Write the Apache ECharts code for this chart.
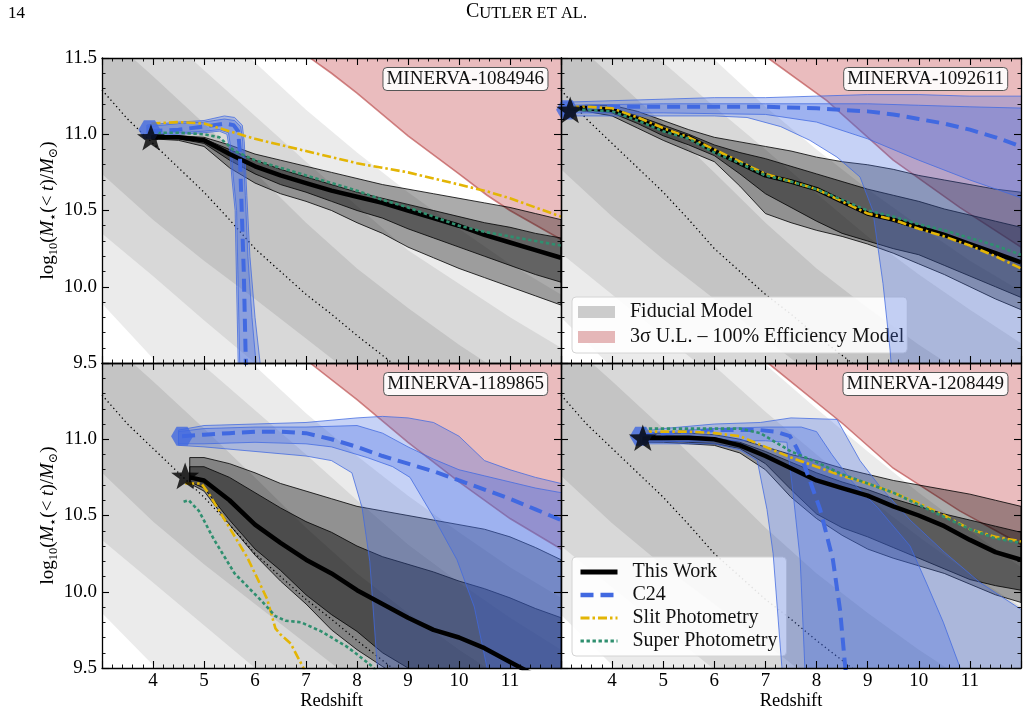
<!DOCTYPE html>
<html>
<head>
<meta charset="utf-8">
<title>Cutler et al. - mass assembly</title>
<script src="https://cdn.jsdelivr.net/npm/echarts@6/dist/echarts.min.js"></script>
<style>
html, body { margin: 0; padding: 0; background: #fff; }
#chart { width: 1029px; height: 712px; }
</style>
</head>
<body>
<div id="chart"></div>
<script>
const F = "'Liberation Serif','DejaVu Serif',serif";

// ---- data (redshift, log10 M) ----
const panelNames = ['MINERVA-1084946', 'MINERVA-1092611', 'MINERVA-1189865', 'MINERVA-1208449'];

// fiducial model contours, on a common redshift grid
const fidZ = [3, 4, 5, 6, 7, 8, 9, 10, 11, 12];
const p1FidU3 = [12.4, 12.1, 11.78, 11.47, 11.16, 10.88, 10.62, 10.38, 10.15, 9.95];
const p1FidU2 = [12.0, 11.72, 11.42, 11.12, 10.82, 10.53, 10.24, 10.02, 9.8, 9.6];
const p1FidU1 = [11.68, 11.38, 11.07, 10.75, 10.42, 10.12, 9.86, 9.62, 9.4, 9.2];
const p1FidD1 = [10.74, 10.44, 10.17, 9.92, 9.66, 9.40, 9.15, 8.9, 8.65, 8.4];
const p1FidD2 = [10.35, 10.07, 9.78, 9.50, 9.22, 8.95, 8.7, 8.45, 8.2, 7.95];
const p1FidD3 = [9.89, 9.53, 9.2, 8.9, 8.6, 8.3, 8.0, 7.7, 7.4, 7.1];
const p2FidU3 = [12.42, 12.12, 11.8, 11.49, 11.18, 10.9, 10.64, 10.4, 10.17, 9.97];
const p2FidU2 = [12.0, 11.73, 11.47, 11.18, 10.9, 10.61, 10.33, 10.08, 9.85, 9.63];
const p2FidU1 = [11.68, 11.38, 11.07, 10.75, 10.42, 10.12, 9.86, 9.62, 9.4, 9.2];
const p2FidD1 = [10.77, 10.46, 10.18, 9.92, 9.66, 9.40, 9.15, 8.9, 8.65, 8.4];
const p2FidD2 = [10.22, 9.95, 9.68, 9.41, 9.15, 8.9, 8.65, 8.4, 8.15, 7.9];
const p2FidD3 = [9.8, 9.47, 9.15, 8.85, 8.55, 8.25, 7.95, 7.65, 7.35, 7.05];
const p3FidU3 = [12.4, 12.1, 11.79, 11.48, 11.17, 10.89, 10.63, 10.39, 10.16, 9.96];
const p3FidU2 = [12.02, 11.75, 11.48, 11.19, 10.9, 10.6, 10.31, 10.06, 9.83, 9.62];
const p3FidU1 = [11.68, 11.38, 11.07, 10.75, 10.42, 10.12, 9.86, 9.62, 9.4, 9.2];
const p3FidD1 = [10.78, 10.46, 10.18, 9.92, 9.66, 9.40, 9.15, 8.9, 8.65, 8.4];
const p3FidD2 = [10.34, 10.06, 9.78, 9.50, 9.22, 8.95, 8.7, 8.45, 8.2, 7.95];
const p3FidD3 = [9.86, 9.52, 9.2, 8.9, 8.6, 8.3, 8.0, 7.7, 7.4, 7.1];
const p4FidU3 = [12.55, 12.3, 12.05, 11.78, 11.49, 11.2, 10.92, 10.65, 10.4, 10.16];
const p4FidU2 = [12.3, 12.05, 11.77, 11.48, 11.18, 10.9, 10.62, 10.36, 10.12, 9.9];
const p4FidU1 = [11.68, 11.38, 11.07, 10.75, 10.42, 10.12, 9.86, 9.62, 9.4, 9.2];
const p4FidD1 = [10.76, 10.45, 10.17, 9.92, 9.66, 9.40, 9.15, 8.9, 8.65, 8.4];
const p4FidD2 = [10.3, 10.03, 9.76, 9.49, 9.22, 8.95, 8.7, 8.45, 8.2, 7.95];
const p4FidD3 = [9.85, 9.52, 9.2, 8.9, 8.6, 8.3, 8.0, 7.7, 7.4, 7.1];

// dotted reference track (same in every panel)
const dottedTrack = [[3, 11.29], [3.5, 11.1], [4, 10.94], [4.5, 10.78], [5, 10.62], [5.5, 10.44], [6, 10.25],
  [6.5, 10.1], [7, 9.95], [7.5, 9.82], [8, 9.68], [8.5, 9.55], [9, 9.42], [9.5, 9.3]];

// 3 sigma upper limit, 100% efficiency
const p1Red = [[6.9, 11.56], [7.08, 11.5], [7.5, 11.4], [8, 11.27], [9, 10.99], [10, 10.74], [10.55, 10.6], [11, 10.5], [12, 10.31], [12.2, 10.28]];
const p2Red = [[6.9, 11.54], [7.05, 11.5], [8.2, 11.22], [9.5, 10.83], [10.8, 10.52], [12, 10.26], [12.2, 10.22]];
const p3Red = [[6.9, 11.55], [7.08, 11.5], [8, 11.26], [9, 10.98], [10, 10.72], [11, 10.48], [12, 10.28], [12.2, 10.25]];
const p4Red = [[6.9, 11.54], [7.05, 11.5], [8.52, 11.1], [9.5, 10.81], [10.8, 10.53], [12, 10.31], [12.2, 10.28]];

// This Work: median and 68/95 percent bands
const p1TwZ = [3.97, 4.5, 5, 5.5, 6, 6.5, 7, 7.5, 8, 8.5, 9, 9.5, 10, 10.5, 11, 11.5, 12];
const p1TwMed = [10.98, 10.98, 10.96, 10.87, 10.79, 10.73, 10.68, 10.63, 10.59, 10.55, 10.50, 10.45, 10.40, 10.34, 10.29, 10.24, 10.19];
const p1TwOutHi = [10.99, 10.99, 10.98, 10.93, 10.87, 10.83, 10.79, 10.75, 10.71, 10.67, 10.64, 10.61, 10.58, 10.55, 10.52, 10.48, 10.44];
const p1TwInHi = [10.985, 10.985, 10.97, 10.90, 10.83, 10.77, 10.72, 10.67, 10.62, 10.58, 10.54, 10.50, 10.46, 10.42, 10.39, 10.35, 10.32];
const p1TwInLo = [10.975, 10.97, 10.94, 10.83, 10.74, 10.67, 10.62, 10.56, 10.50, 10.45, 10.38, 10.32, 10.26, 10.20, 10.14, 10.08, 10.03];
const p1TwOutLo = [10.97, 10.96, 10.92, 10.78, 10.68, 10.61, 10.56, 10.50, 10.42, 10.35, 10.26, 10.19, 10.12, 10.06, 10.00, 9.94, 9.88];

const p2TwZ = [3.18, 3.5, 4, 4.5, 5, 5.5, 6, 6.5, 7, 7.5, 8, 8.5, 9, 9.5, 10, 10.5, 11, 11.5, 12];
const p2TwMed = [11.17, 11.17, 11.16, 11.10, 11.03, 10.98, 10.89, 10.81, 10.73, 10.69, 10.64, 10.56, 10.48, 10.44, 10.39, 10.34, 10.28, 10.22, 10.16];
const p2TwOutHi = [11.18, 11.19, 11.19, 11.15, 11.09, 11.03, 10.98, 10.95, 10.92, 10.89, 10.85, 10.82, 10.80, 10.77, 10.73, 10.70, 10.67, 10.64, 10.62];
const p2TwInHi = [11.175, 11.18, 11.17, 11.12, 11.06, 11.0, 10.93, 10.88, 10.84, 10.79, 10.74, 10.69, 10.64, 10.60, 10.56, 10.51, 10.47, 10.43, 10.39];
const p2TwInLo = [11.165, 11.16, 11.14, 11.07, 10.99, 10.93, 10.86, 10.74, 10.61, 10.52, 10.43, 10.35, 10.30, 10.25, 10.21, 10.14, 10.07, 10.0, 9.93];
const p2TwOutLo = [11.16, 11.15, 11.12, 11.04, 10.96, 10.89, 10.82, 10.66, 10.48, 10.42, 10.37, 10.33, 10.28, 10.22, 10.15, 10.08, 10.0, 9.92, 9.85];

const p3TwZ = [4.72, 5, 5.5, 6, 6.5, 7, 7.5, 8, 8.5, 9, 9.5, 10, 10.5, 11, 11.5, 12];
const p3TwMed = [10.75, 10.73, 10.60, 10.44, 10.32, 10.21, 10.12, 10.01, 9.92, 9.83, 9.75, 9.70, 9.63, 9.54, 9.45, 9.35];
const p3TwOutHi = [10.88, 10.88, 10.84, 10.78, 10.71, 10.66, 10.61, 10.56, 10.53, 10.50, 10.47, 10.44, 10.41, 10.36, 10.29, 10.21];
const p3TwInHi = [10.82, 10.82, 10.75, 10.65, 10.55, 10.46, 10.39, 10.30, 10.23, 10.18, 10.13, 10.07, 10.02, 9.96, 9.89, 9.83];
const p3TwInLo = [10.72, 10.68, 10.47, 10.28, 10.14, 9.98, 9.85, 9.74, 9.60, 9.50, 9.40, 9.30, 9.2, 9.1, 9.0, 8.9];
const p3TwOutLo = [10.71, 10.66, 10.44, 10.24, 10.07, 9.92, 9.75, 9.62, 9.51, 9.40, 9.3, 9.2, 9.1, 9.0, 8.9, 8.8];

const p4TwZ = [4.6, 5, 5.5, 6, 6.5, 7, 7.5, 8, 8.5, 9, 9.5, 10, 10.5, 11, 11.5, 12];
const p4TwMed = [11.01, 11.01, 11.01, 11.0, 10.96, 10.89, 10.81, 10.73, 10.68, 10.63, 10.56, 10.50, 10.43, 10.34, 10.26, 10.21];
const p4TwOutHi = [11.04, 11.04, 11.04, 11.03, 11.0, 10.95, 10.9, 10.86, 10.81, 10.77, 10.73, 10.70, 10.67, 10.64, 10.60, 10.56];
const p4TwInHi = [11.02, 11.02, 11.02, 11.01, 10.98, 10.92, 10.85, 10.78, 10.72, 10.67, 10.61, 10.56, 10.51, 10.47, 10.43, 10.39];
const p4TwInLo = [10.99, 10.99, 10.98, 10.97, 10.94, 10.84, 10.67, 10.51, 10.42, 10.36, 10.29, 10.22, 10.15, 10.08, 10.04, 10.01];
const p4TwOutLo = [10.98, 10.98, 10.97, 10.96, 10.91, 10.80, 10.62, 10.48, 10.37, 10.28, 10.22, 10.17, 10.12, 10.05, 9.98, 9.93];

// C24 median tracks
const p1C24 = [[3.93, 11.02], [4.5, 11.03], [5.0, 11.05], [5.4, 11.07], [5.58, 11.06], [5.67, 11.02], [5.70, 10.9], [5.74, 10.5], [5.78, 10.1], [5.82, 9.5], [5.84, 9.3]];
const p2C24 = [[3.12, 11.17], [4, 11.18], [5, 11.18], [6, 11.18], [7, 11.18], [8, 11.17], [8.5, 11.16], [9, 11.15], [9.5, 11.13], [10, 11.1], [10.5, 11.07], [11, 11.03], [11.5, 10.98], [12, 10.92]];
const p3C24 = [[4.57, 11.02], [5, 11.03], [5.5, 11.04], [6, 11.05], [6.5, 11.05], [7, 11.04], [7.5, 11.0], [8, 10.95], [8.5, 10.89], [9, 10.84], [9.5, 10.79], [10, 10.73], [10.5, 10.67], [11, 10.61], [11.5, 10.54], [12, 10.47]];
const p4C24 = [[4.56, 11.03], [5, 11.04], [5.5, 11.05], [6, 11.06], [6.5, 11.06], [6.9, 11.06], [7.2, 11.05], [7.48, 11.02], [7.6, 10.95], [7.73, 10.86], [7.9, 10.70], [8.07, 10.54], [8.2, 10.37], [8.32, 10.21], [8.46, 9.88], [8.56, 9.51], [8.6, 9.4]];

// C24 band edges (edge A runs along the top / right, edge B along the bottom / left)
const p1C24OutA = [[3.88, 11.06], [4.5, 11.08], [5.0, 11.09], [5.4, 11.12], [5.6, 11.11], [5.75, 11.06], [5.79, 10.95], [5.84, 10.6], [5.9, 10.2], [6.0, 9.8], [6.1, 9.5], [6.12, 9.4]];
const p1C24OutB = [[3.88, 10.99], [4.5, 11.0], [5.0, 11.01], [5.3, 11.02], [5.45, 11.0], [5.5, 10.9], [5.55, 10.7], [5.61, 10.5], [5.64, 10.0], [5.67, 9.5], [5.68, 9.4]];
const p1C24InA = [[3.9, 11.05], [4.5, 11.07], [5.0, 11.08], [5.4, 11.1], [5.6, 11.09], [5.72, 11.05], [5.76, 10.95], [5.81, 10.6], [5.86, 10.2], [5.94, 9.8], [6.02, 9.5], [6.04, 9.4]];
const p1C24InB = [[3.9, 11.0], [4.5, 11.01], [5.0, 11.02], [5.3, 11.03], [5.48, 11.01], [5.53, 10.9], [5.58, 10.7], [5.64, 10.5], [5.67, 10.0], [5.7, 9.5], [5.71, 9.4]];

const p2C24OutA = [[3.05, 11.21], [4, 11.22], [5, 11.23], [6, 11.24], [7, 11.24], [8, 11.25], [9, 11.26], [10, 11.26], [11, 11.25], [12.2, 11.25], [12.2, 9.3]];
const p2C24OutB = [[3.05, 11.12], [4, 11.12], [5, 11.12], [6, 11.12], [6.64, 11.11], [7.3, 11.05], [7.87, 10.96], [8.4, 10.85], [8.85, 10.72], [9.1, 10.5], [9.3, 10.02], [9.44, 9.58], [9.5, 9.3]];
const p2C24InA = [[3.05, 11.19], [5, 11.2], [7, 11.2], [9, 11.2], [10, 11.19], [11, 11.18], [12.2, 11.17]];
const p2C24InB = [[3.05, 11.14], [5, 11.14], [7, 11.13], [8, 11.08], [9, 10.97], [10, 10.83], [11, 10.7], [12.2, 10.56]];

const p3C24OutA = [[4.5, 11.06], [5, 11.09], [6, 11.10], [7, 11.11], [8, 11.14], [8.5, 11.15], [9, 11.14], [9.5, 11.11], [10, 11.02], [10.5, 10.86], [11, 10.8], [11.5, 10.75], [12, 10.71], [12.2, 10.7], [12.2, 9.3]];
const p3C24OutB = [[4.5, 10.96], [5, 10.95], [6, 10.92], [7, 10.89], [7.5, 10.86], [7.9, 10.78], [8.1, 10.55], [8.25, 10.2], [8.4, 9.5], [8.42, 9.3]];
const p3C24InA = [[4.5, 11.05], [5, 11.07], [6, 11.08], [7, 11.08], [8, 11.09], [8.5, 11.04], [9, 10.95], [9.5, 10.87], [10, 10.80], [10.5, 10.76], [11, 10.72], [11.5, 10.68], [12, 10.65], [12.2, 10.64], [12.2, 9.3]];
const p3C24InB = [[4.5, 10.97], [5, 10.97], [6, 10.98], [7, 10.97], [7.5, 10.95], [8.2, 10.88], [8.7, 10.82], [9.04, 10.75], [9.5, 10.49], [9.96, 10.21], [10.3, 9.9], [10.55, 9.5], [10.6, 9.3]];

const p4C24OutA = [[4.55, 11.05], [5, 11.07], [6, 11.1], [6.9, 11.11], [7.5, 11.14], [8.4, 11.13], [8.6, 11.01], [8.85, 10.86], [9.24, 10.69], [9.83, 10.47], [10.5, 10.26], [11.2, 10.06], [12.2, 9.84], [12.2, 9.3]];
const p4C24OutB = [[4.55, 10.97], [6.0, 10.97], [6.5, 10.93], [6.84, 10.86], [7.03, 10.54], [7.15, 10.25], [7.32, 9.51], [7.35, 9.3]];
const p4C24InA = [[4.55, 11.04], [6, 11.07], [7, 11.08], [7.7, 11.08], [8.0, 11.05], [8.3, 10.9], [8.7, 10.72], [9.2, 10.55], [9.83, 10.3], [10.16, 10.05], [10.48, 9.8], [10.8, 9.51], [10.9, 9.3]];
const p4C24InB = [[4.55, 10.98], [6, 10.99], [7, 10.99], [7.42, 10.98], [7.54, 10.65], [7.68, 10.21], [7.77, 9.51], [7.8, 9.3]];

// slit and super photometry tracks
const p1Slit = [[3.97, 11.07], [4.5, 11.08], [5.0, 11.07], [5.5, 11.02], [6.0, 10.97], [6.5, 10.93], [7.0, 10.89], [7.5, 10.85], [8, 10.81], [8.5, 10.78], [9, 10.75], [9.5, 10.71], [10, 10.67], [10.5, 10.63], [11, 10.58], [11.5, 10.52], [12, 10.46]];
const p1Super = [[3.97, 11.01], [4.5, 11.01], [5.0, 11.0], [5.3, 10.98], [5.6, 10.89], [6, 10.83], [6.5, 10.78], [7, 10.73], [7.5, 10.68], [8, 10.63], [8.5, 10.57], [9, 10.52], [9.5, 10.46], [10, 10.40], [10.5, 10.36], [11, 10.33], [11.5, 10.30], [12, 10.27]];
const p2Slit = [[3.18, 11.18], [3.5, 11.18], [4, 11.17], [4.5, 11.11], [5, 11.04], [5.5, 10.98], [6, 10.9], [6.5, 10.82], [7, 10.74], [7.5, 10.69], [8, 10.64], [8.5, 10.56], [9, 10.48], [9.5, 10.44], [10, 10.38], [10.5, 10.33], [11, 10.27], [11.5, 10.2], [12, 10.12]];
const p2Super = [[3.18, 11.16], [3.5, 11.16], [4, 11.15], [4.5, 11.09], [5, 11.02], [5.5, 10.97], [6, 10.88], [6.5, 10.81], [7, 10.73], [7.5, 10.69], [8, 10.64], [8.5, 10.57], [9, 10.5], [9.5, 10.46], [10, 10.41], [10.5, 10.37], [11, 10.32], [11.5, 10.27], [12, 10.21]];
const p3Slit = [[4.63, 10.71], [4.95, 10.71], [5.1, 10.64], [5.5, 10.42], [5.84, 10.23], [6.0, 10.12], [6.24, 9.95], [6.4, 9.76], [6.5, 9.72], [6.7, 9.66], [6.95, 9.5], [7.0, 9.45]];
const p3Super = [[4.6, 10.59], [4.7, 10.6], [4.9, 10.53], [5.2, 10.34], [5.6, 10.12], [6.1, 9.95], [6.4, 9.84], [6.6, 9.81], [6.9, 9.80], [7.3, 9.74], [7.8, 9.64], [8.0, 9.59], [8.3, 9.51], [8.4, 9.47]];
const p4Slit = [[4.6, 11.05], [5, 11.05], [5.5, 11.05], [6, 11.04], [6.5, 11.02], [7, 10.95], [7.5, 10.88], [8, 10.82], [8.5, 10.76], [9, 10.71], [9.5, 10.65], [10, 10.58], [10.5, 10.5], [11, 10.41], [11.5, 10.36], [12, 10.33]];
const p4Super = [[4.6, 11.07], [5, 11.07], [5.5, 11.07], [6, 11.07], [6.5, 11.07], [6.9, 11.04], [7.5, 10.92], [8, 10.85], [8.5, 10.77], [9, 10.71], [9.5, 10.65], [10, 10.57], [10.5, 10.49], [11, 10.41], [11.5, 10.35], [12, 10.32]];

// observed points
const starPts = [[3.96, 10.98], [3.18, 11.16], [4.63, 10.76], [4.6, 11.01]];
const hexPts = [[3.93, 11.03], [3.12, 11.16], [4.57, 11.02], [4.56, 11.02]];

// ---- helpers ----
const zip = (zs, vs) => zs.map((z, i) => [z, vs[i]]);
const STAR = 'path://M0,-10L2.35,-3.24L9.51,-3.09L3.8,1.24L5.88,8.09L0,4L-5.88,8.09L-3.8,1.24L-9.51,-3.09L-2.35,-3.24Z';
const HEX = 'path://M-10,0L-5,-8.66L5,-8.66L10,0L5,8.66L-5,8.66Z';

function poly(gi, name, a, b, style, z) {
  const pts = a.concat(b.slice().reverse());
  return {
    type: 'custom', name: name, xAxisIndex: gi * 2, yAxisIndex: gi * 2, z: z, silent: true,
    data: [[7, 10.5]],
    renderItem: function (params, api) {
      const cs = params.coordSys;
      return {
        type: 'polygon',
        shape: { points: pts.map(p => api.coord(p)) },
        style: style,
        clipPath: { type: 'rect', shape: { x: cs.x, y: cs.y, width: cs.width, height: cs.height } }
      };
    }
  };
}

function line(gi, name, data, color, width, type, z) {
  return {
    type: 'line', name: name, xAxisIndex: gi * 2, yAxisIndex: gi * 2, z: z, silent: true,
    data: data, symbol: 'none', showSymbol: false,
    lineStyle: { color: color, width: width, type: type, cap: 'butt', join: 'round' },
    itemStyle: { color: color }
  };
}

const panels = [
  { fid: [p1FidU3, p1FidU2, p1FidU1, p1FidD1, p1FidD2, p1FidD3], red: p1Red,
    tw: [p1TwZ, p1TwMed, p1TwOutHi, p1TwInHi, p1TwInLo, p1TwOutLo],
    c24: p1C24, c24Bands: [[p1C24OutA, p1C24OutB], [p1C24InA, p1C24InB]], slit: p1Slit, sup: p1Super },
  { fid: [p2FidU3, p2FidU2, p2FidU1, p2FidD1, p2FidD2, p2FidD3], red: p2Red,
    tw: [p2TwZ, p2TwMed, p2TwOutHi, p2TwInHi, p2TwInLo, p2TwOutLo],
    c24: p2C24, c24Bands: [[p2C24OutA, p2C24OutB], [p2C24InA, p2C24InB]], slit: p2Slit, sup: p2Super },
  { fid: [p3FidU3, p3FidU2, p3FidU1, p3FidD1, p3FidD2, p3FidD3], red: p3Red,
    tw: [p3TwZ, p3TwMed, p3TwOutHi, p3TwInHi, p3TwInLo, p3TwOutLo],
    c24: p3C24, c24Bands: [[p3C24OutA, p3C24OutB], [p3C24InA, p3C24InB]], slit: p3Slit, sup: p3Super },
  { fid: [p4FidU3, p4FidU2, p4FidU1, p4FidD1, p4FidD2, p4FidD3], red: p4Red,
    tw: [p4TwZ, p4TwMed, p4TwOutHi, p4TwInHi, p4TwInLo, p4TwOutLo],
    c24: p4C24, c24Bands: [[p4C24OutA, p4C24OutB], [p4C24InA, p4C24InB]], slit: p4Slit, sup: p4Super }
];

const FID_NAME = 'Fiducial Model';
const RED_NAME = '3σ U.L. – 100% Efficiency Model';
const fidColors = ['#ebebeb', '#d8d8d8', '#c4c4c4'];
const C24_DASH = [13, 7];
const SLIT_DASH = [9, 3, 2.5, 3];
const SUPER_DASH = [3.4, 2.6];

const series = [];
panels.forEach((p, gi) => {
  const f = p.fid;
  series.push(poly(gi, FID_NAME, zip(fidZ, f[0]), zip(fidZ, f[5]), { fill: fidColors[0] }, 1));
  series.push(poly(gi, FID_NAME, zip(fidZ, f[1]), zip(fidZ, f[4]), { fill: fidColors[1] }, 1));
  series.push(poly(gi, FID_NAME, zip(fidZ, f[2]), zip(fidZ, f[3]), { fill: fidColors[2] }, 1));
  series.push(line(gi, 'dotted', dottedTrack, '#000', 1.3, [1.3, 3], 2));
  series.push(poly(gi, RED_NAME, p.red, [[6.5, 11.8], [12.3, 11.8]],
    { fill: 'rgba(200,80,85,0.38)', stroke: 'rgba(185,70,70,0.65)', lineWidth: 1.6 }, 3));
  const t = p.tw;
  series.push(poly(gi, 'tw95', zip(t[0], t[2]), zip(t[0], t[5]),
    { fill: 'rgba(0,0,0,0.33)', stroke: '#000', lineWidth: 0.8 }, 4));
  series.push(poly(gi, 'tw68', zip(t[0], t[3]), zip(t[0], t[4]),
    { fill: 'rgba(0,0,0,0.42)', stroke: '#000', lineWidth: 0.8 }, 4));
  p.c24Bands.forEach(b => {
    series.push(poly(gi, 'c24band', b[0], b[1],
      { fill: 'rgba(65,105,225,0.3)', stroke: 'rgba(65,105,225,0.85)', lineWidth: 0.9 }, 5));
  });
  series.push(line(gi, 'This Work', zip(t[0], t[1]), '#000', 4.5, 'solid', 6));
  series.push(line(gi, 'C24', p.c24, '#4169e1', 4, C24_DASH, 6));
  series.push(line(gi, 'Slit Photometry', p.slit, '#e3b505', 2.6, SLIT_DASH, 6));
  series.push(line(gi, 'Super Photometry', p.sup, '#2f8f6f', 2.6, SUPER_DASH, 6));
  series.push({ type: 'scatter', xAxisIndex: gi * 2, yAxisIndex: gi * 2, z: 7, silent: true,
    data: [hexPts[gi]], symbol: HEX, symbolSize: 22, symbolKeepAspect: true, itemStyle: { color: '#4169e1' } });
  series.push({ type: 'scatter', xAxisIndex: gi * 2, yAxisIndex: gi * 2, z: 8, silent: true,
    data: [starPts[gi]], symbol: STAR, symbolSize: 28, symbolKeepAspect: true, itemStyle: { color: '#000' } });
});

// ---- axes ----
const grids = [
  { left: 102, top: 58, width: 459, height: 305 },
  { left: 561, top: 58, width: 460, height: 305 },
  { left: 102, top: 363, width: 459, height: 305 },
  { left: 561, top: 363, width: 460, height: 305 }
];
const axisLine = { show: true, onZero: false, lineStyle: { color: '#000', width: 1.3 } };
const tick = { show: true, inside: true, length: 7, lineStyle: { color: '#000', width: 1.1 } };
const minor = { show: true, splitNumber: 5, length: 3.5, lineStyle: { color: '#000', width: 0.9 } };
const labelFont = { fontFamily: F, fontSize: 19, color: '#000' };

const xAxis = [];
const yAxis = [];
grids.forEach((g, gi) => {
  const bottomRow = gi >= 2;
  xAxis.push({
    type: 'value', gridIndex: gi, min: 3, max: 12, interval: 1, position: 'bottom', z: 10,
    axisLine: axisLine, axisTick: tick, minorTick: minor, splitLine: { show: false },
    axisLabel: { show: bottomRow, margin: 4, ...labelFont, formatter: v => (v <= 3 || v >= 12) ? '' : String(v) },
    name: bottomRow ? 'Redshift' : '', nameLocation: 'middle', nameGap: 22,
    nameTextStyle: { fontFamily: F, fontSize: 18.5, color: '#000' }
  });
  xAxis.push({
    type: 'value', gridIndex: gi, min: 3, max: 12, interval: 1, position: 'top', z: 10,
    axisLine: axisLine, axisTick: tick, minorTick: minor, splitLine: { show: false }, axisLabel: { show: false }
  });
  const leftCol = gi % 2 === 0;
  yAxis.push({
    type: 'value', gridIndex: gi, min: 9.5, max: 11.5, interval: 0.5, position: 'left', z: 10,
    axisLine: axisLine, axisTick: tick, minorTick: minor, splitLine: { show: false },
    axisLabel: { show: leftCol, margin: 5, ...labelFont,
      formatter: v => (bottomRow && v >= 11.5) ? '' : v.toFixed(1) },
    name: leftCol ? '{n|log}{s|10}{n|(}{i|M}{s|⋆}{n|(< }{i|t}{n|)/}{i|M}{s|⊙}{n|)}' : '',
    nameLocation: 'middle', nameGap: 39, nameRotate: 90,
    nameTextStyle: {
      rich: {
        n: { fontFamily: F, fontSize: 19, color: '#000', lineHeight: 24, verticalAlign: 'middle' },
        i: { fontFamily: F, fontSize: 19, color: '#000', fontStyle: 'italic', lineHeight: 24, verticalAlign: 'middle' },
        s: { fontFamily: F, fontSize: 12.5, color: '#000', lineHeight: 24, verticalAlign: 'bottom' }
      }
    }
  });
  yAxis.push({
    type: 'value', gridIndex: gi, min: 9.5, max: 11.5, interval: 0.5, position: 'right', z: 10,
    axisLine: axisLine, axisTick: tick, minorTick: minor, splitLine: { show: false }, axisLabel: { show: false }
  });
});

const boxRight = [481, 21, 481, 21];
const boxTop = [67, 67, 372, 372];
const titles = panelNames.map((t, i) => ({
  text: t, right: boxRight[i], top: boxTop[i],
  textStyle: { fontFamily: F, fontSize: 19, fontWeight: 'normal', color: '#111', lineHeight: 21 },
  backgroundColor: 'rgba(255,255,255,0.9)', borderColor: '#555', borderWidth: 1, borderRadius: 4,
  padding: [2, 4, 1, 4]
}));

const hidden = { color: 'rgba(0,0,0,0)', borderWidth: 0 };
const legendBase = {
  orient: 'vertical', selectedMode: false, itemWidth: 37, itemHeight: 12,
  textStyle: { fontFamily: F, fontSize: 20, color: '#111', lineHeight: 20, padding: [0, 0, 0, 10] },
  backgroundColor: 'rgba(255,255,255,0.88)', borderColor: '#d4d4d4', borderWidth: 1, borderRadius: 4
};

const chart = echarts.init(document.getElementById('chart'), null, { renderer: 'canvas' });
chart.setOption({
  animation: false,
  backgroundColor: '#fff',
  grid: grids,
  xAxis: xAxis,
  yAxis: yAxis,
  title: titles,
  legend: [
    Object.assign({}, legendBase, {
      left: 572, top: 297, padding: [5, 3, 6, 6], itemGap: 5,
      data: [
        { name: FID_NAME, icon: 'rect', itemStyle: { color: '#cccccc', borderWidth: 0 } },
        { name: RED_NAME, icon: 'rect', itemStyle: { color: '#e5b7b8', borderWidth: 0 } }
      ]
    }),
    Object.assign({}, legendBase, {
      left: 572, top: 557, padding: [5, 9, 5, 6], itemGap: 3,
      data: [
        { name: 'This Work', itemStyle: hidden, lineStyle: { color: '#000', width: 5, type: 'solid' } },
        { name: 'C24', itemStyle: hidden, lineStyle: { color: '#4169e1', width: 4.5, type: C24_DASH } },
        { name: 'Slit Photometry', itemStyle: hidden, lineStyle: { color: '#e3b505', width: 3, type: SLIT_DASH } },
        { name: 'Super Photometry', itemStyle: hidden, lineStyle: { color: '#2f8f6f', width: 3, type: SUPER_DASH } }
      ]
    })
  ],
  graphic: [
    { type: 'text', left: 8, top: 5, style: { text: '14', font: "17px 'Liberation Serif'", fill: '#000' } },
    { type: 'text', left: 466, top: 2, style: {
      text: '{a|C}{b|UTLER ET AL.}',
      rich: {
        a: { fontFamily: F, fontSize: 20, fill: '#000', lineHeight: 21, verticalAlign: 'bottom' },
        b: { fontFamily: F, fontSize: 16.5, fill: '#000', lineHeight: 21, verticalAlign: 'bottom' }
      }
    } }
  ],
  series: series
});
</script>
</body>
</html>
